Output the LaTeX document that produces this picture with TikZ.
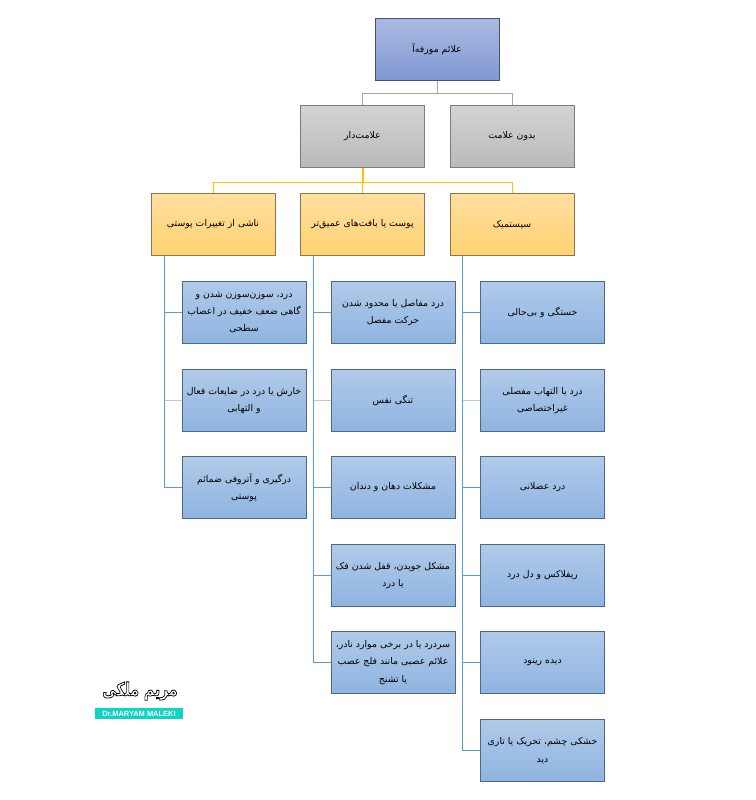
\documentclass[tikz,border=0pt]{standalone}
\usepackage{fontspec}
\TeXXeTstate=1
\newfontfamily\arabicfont[Script=Arabic]{DejaVu Sans}
\setsansfont{Liberation Sans}
\newcommand{\fatext}[1]{\beginR #1\endR}
\definecolor{linkblue}{HTML}{5B9BD5}
\definecolor{linkpale}{HTML}{AECDE9}
\definecolor{linkgold}{HTML}{FFC000}
\definecolor{linkgrey}{HTML}{A5A5A5}
\definecolor{logoteal}{HTML}{0FD3C4}
\tikzset{
  basebox/.style={rectangle,minimum width=93pt,minimum height=46.5pt,inner sep=0pt,line width=0.75pt,
    align=center,text=black,font=\arabicfont\fontsize{7}{13}\selectfont},
  rootbox/.style={basebox,draw=HTMLroot,top color=HTMLroott,bottom color=HTMLrootb},
  greybox/.style={basebox,draw=HTMLgrey,top color=HTMLgreyt,bottom color=HTMLgreyb},
  goldbox/.style={basebox,draw=HTMLgold,top color=HTMLgoldt,bottom color=HTMLgoldb},
  bluebox/.style={basebox,draw=HTMLblue,top color=HTMLbluet,bottom color=HTMLblueb},
  greylink/.style={draw=linkgrey,line width=0.75pt},
  goldlink/.style={draw=linkgold,line width=0.75pt},
  bluelink/.style={draw=linkblue,line width=0.75pt},
  palelink/.style={draw=linkpale,line width=1.4pt},
}
\definecolor{HTMLroot}{HTML}{44546F}
\definecolor{HTMLroott}{HTML}{ABBAE1}
\definecolor{HTMLrootb}{HTML}{8098D4}
\definecolor{HTMLgrey}{HTML}{7C7C7C}
\definecolor{HTMLgreyt}{HTML}{D3D3D3}
\definecolor{HTMLgreyb}{HTML}{BABABA}
\definecolor{HTMLgold}{HTML}{8C7444}
\definecolor{HTMLgoldt}{HTML}{FFDFA0}
\definecolor{HTMLgoldb}{HTML}{FFD272}
\definecolor{HTMLblue}{HTML}{4F6885}
\definecolor{HTMLbluet}{HTML}{B0CAE9}
\definecolor{HTMLblueb}{HTML}{8FB4E1}
\begin{document}
\begin{tikzpicture}[x=0.75pt,y=-0.75pt]
\useasboundingbox (0,0) rectangle (756,800);
\coordinate (t1) at (164.5,256);
\coordinate (t2) at (313.5,256);
\coordinate (t3) at (462.5,256);
\node[rootbox] (root) at (437,49) {\fatext{علائم مورفه‌آ}};
\node[greybox] (signed) at (362.5,136.5) {\fatext{علامت‌دار}};
\node[greybox] (nosign) at (512,136.5) {\fatext{بدون علامت}};
\node[goldbox] (skin) at (213,224.5) {\fatext{ناشی از تغییرات پوستی}};
\node[goldbox] (deep) at (362.5,224.5) {\fatext{پوست یا بافت‌های عمیق‌تر}};
\node[goldbox] (syst) at (512,224.5) {\fatext{سیستمیک}};
% left column
\node[bluebox] (a1) at (244,312.5) {\fatext{درد، سوزن‌سوزن شدن و}\\\fatext{گاهی ضعف خفیف در اعصاب}\\\fatext{سطحی}};
\node[bluebox] (a2) at (244,400.5) {\fatext{خارش یا درد در ضایعات فعال}\\\fatext{و التهابی}};
\node[bluebox] (a3) at (244,487.5) {\fatext{درگیری و آتروفی ضمائم}\\\fatext{پوستی}};
% middle column
\node[bluebox] (b1) at (393,312.5) {\fatext{درد مفاصل یا محدود شدن}\\\fatext{حرکت مفصل}};
\node[bluebox] (b2) at (393,400.5) {\fatext{تنگی نفس}};
\node[bluebox] (b3) at (393,487.5) {\fatext{مشکلات دهان و دندان}};
\node[bluebox] (b4) at (393,575.5) {\fatext{مشکل جویدن، قفل شدن فک}\\\fatext{یا درد}};
\node[bluebox] (b5) at (393,662.5) {\fatext{سردرد یا در برخی موارد نادر،}\\\fatext{علائم عصبی مانند فلج عصب}\\\fatext{یا تشنج}};
% right column
\node[bluebox] (c1) at (542.5,312.5) {\fatext{خستگی و بی‌حالی}};
\node[bluebox] (c2) at (542.5,400.5) {\fatext{درد یا التهاب مفصلی}\\\fatext{غیراختصاصی}};
\node[bluebox] (c3) at (542.5,487.5) {\fatext{درد عضلانی}};
\node[bluebox] (c4) at (542.5,575.5) {\fatext{ریفلاکس و دل درد}};
\node[bluebox] (c5) at (542.5,662.5) {\fatext{دیده رینود}};
\node[bluebox] (c6) at (542.5,750.5) {\fatext{خشکی چشم، تحریک یا تاری}\\\fatext{دید}};
% top links
\coordinate (rootdrop) at ([yshift=-9.75pt]root.south);
\coordinate (golddrop) at ([yshift=-10.5pt]signed.south);
\draw[greylink] (root.south) -- (rootdrop);
\draw[greylink] (rootdrop) -| (signed.north);
\draw[greylink] (rootdrop) -| (nosign.north);
\draw[goldlink] (signed.south) -- (deep.north);
\draw[goldlink,line width=1.5pt] (signed.south) -- (golddrop);
\draw[goldlink] (golddrop) -| (skin.north);
\draw[goldlink] (golddrop) -| (syst.north);
% trunks and branches
\foreach \n in {a1,a3} \draw[bluelink] (t1) |- (\n.west);
\foreach \n in {b1,b3,b4,b5} \draw[bluelink] (t2) |- (\n.west);
\foreach \n in {c1,c3,c4,c5,c6} \draw[bluelink] (t3) |- (\n.west);
\draw[palelink] (t1 |- a2.west) -- (a2.west);
\draw[palelink] (t2 |- b2.west) -- (b2.west);
\draw[palelink] (t3 |- c2.west) -- (c2.west);
% logo
\node[inner sep=0pt,yscale=1.3,transform shape,font=\arabicfont\bfseries\fontsize{10.5}{10.5}\selectfont] (logotext) at (140,691) {\special{pdf:code 2 Tr 0.45 w 1 g}\fatext{مریم ملکی}\special{pdf:code 0 Tr 0 g}};
\node[fill=logoteal,text=white,inner sep=0pt,minimum width=66pt,minimum height=8.25pt,font=\sffamily\bfseries\fontsize{5.6}{6}\selectfont] (logotag) at (139,713.5) {Dr.MARYAM MALEKI};
\end{tikzpicture}
\end{document}
